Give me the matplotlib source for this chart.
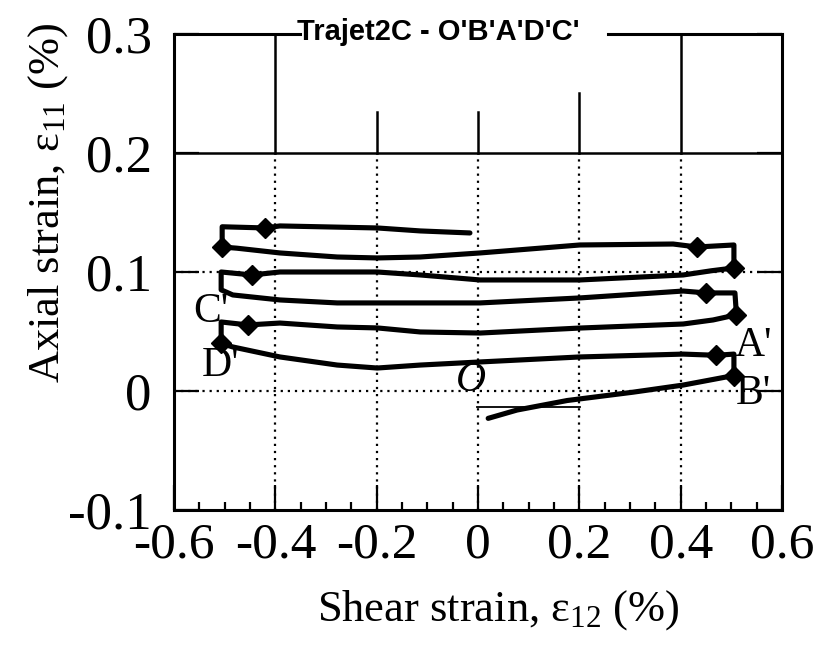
import matplotlib
matplotlib.use("Agg")
import matplotlib.pyplot as plt
from matplotlib.ticker import MultipleLocator

plt.rcParams['font.family'] = ['Liberation Serif', 'DejaVu Serif']
plt.rcParams['mathtext.fontset'] = 'custom'
plt.rcParams['mathtext.rm'] = 'Liberation Serif'
plt.rcParams['mathtext.it'] = 'Liberation Serif:italic'

# ---- data ----
title = "Trajet2C - O'B'A'D'C'"
x_ticks = [-0.6, -0.4, -0.2, 0, 0.2, 0.4, 0.6]
x_tick_labels = ["-0.6", "-0.4", "-0.2", "0", "0.2", "0.4", "0.6"]
y_ticks = [-0.1, 0, 0.1, 0.2, 0.3]
y_tick_labels = ["-0.1", "0", "0.1", "0.2", "0.3"]

# loading path O' -> B' -> A' -> D' -> C' -> ...
path_x = [0.020, 0.077, 0.176, 0.306, 0.405, 0.505,
          0.505, 0.470, 0.405, 0.201, 0.004, -0.114, -0.199, -0.278, -0.391, -0.484, -0.507,
          -0.507, -0.454, -0.391, -0.278, -0.199, -0.114, 0.004, 0.201, 0.405, 0.464, 0.510,
          0.507, 0.450, 0.405, 0.201, 0.004, -0.199, -0.278, -0.391, -0.484, -0.507,
          -0.507, -0.446, -0.391, -0.199, -0.114, 0.004, 0.201, 0.405, 0.460, 0.505,
          0.505, 0.432, 0.385, 0.201, 0.004, -0.114, -0.199, -0.278, -0.391, -0.476, -0.505,
          -0.505, -0.420, -0.391, -0.199, -0.114, -0.016]
path_y = [-0.023, -0.016, -0.008, -0.001, 0.005, 0.013,
          0.031, 0.030, 0.031, 0.0286, 0.0244, 0.0218, 0.0193, 0.0218, 0.0286, 0.037, 0.040,
          0.058, 0.0555, 0.0571, 0.0538, 0.053, 0.0496, 0.0487, 0.0529, 0.0563, 0.0597, 0.064,
          0.0824, 0.0824, 0.084, 0.0782, 0.074, 0.074, 0.074, 0.0765, 0.0807, 0.085,
          0.100, 0.0975, 0.100, 0.100, 0.0975, 0.0933, 0.0933, 0.0975, 0.101, 0.1034,
          0.1227, 0.121, 0.1235, 0.1227, 0.116, 0.1126, 0.1118, 0.1126, 0.116, 0.120, 0.121,
          0.138, 0.137, 0.1387, 0.137, 0.1345, 0.1328]

marker_x = [0.505, 0.470, -0.507, -0.454, 0.510, 0.450, -0.446, 0.505, 0.432, -0.505, -0.420]
marker_y = [0.013, 0.030, 0.040, 0.0555, 0.064, 0.0824, 0.0975, 0.1034, 0.121, 0.121, 0.137]

thin_x = [-0.002, 0.201]
thin_y = [-0.0134, -0.0134]

point_labels = ["O", "A'", "B'", "C'", "D'"]
point_lx = [-0.014, 0.543, 0.543, -0.527, -0.509]
point_ly = [0.0085, 0.038, -0.002, 0.067, 0.021]

# ---- figure ----
fig = plt.figure(figsize=(8.24, 6.51), dpi=100)
ax = fig.add_axes([0.2112, 0.2166, 0.7379, 0.7312])
ax.set_xlim(-0.6, 0.6)
ax.set_ylim(-0.1, 0.3)

for s in ax.spines.values():
    s.set_linewidth(2.2)
ax.spines['top'].set_visible(False)

# grid: dotted below 0.2, solid above
dot = dict(color='black', lw=1.6, linestyle=(0, (1, 2.2)), zorder=1)
for xv in x_ticks[1:-1]:
    ax.plot([xv, xv], [-0.1, 0.2], **dot)
for yv in [0.0, 0.1]:
    ax.plot([-0.6, 0.6], [yv, yv], **dot)
ax.plot([-0.6, 0.6], [0.2, 0.2], color='black', lw=1.8, zorder=1)
solid_top = {-0.4: 0.3, -0.2: 0.2345, 0.0: 0.2345, 0.2: 0.25, 0.4: 0.3}
for xv, ytop in solid_top.items():
    ax.plot([xv, xv], [0.2, ytop], color='black', lw=1.8, zorder=1)

# top spine with gap for title
ax.plot([0, 0.207], [1, 1], color='black', lw=2.2, transform=ax.transAxes, clip_on=False)
ax.plot([0.714, 1], [1, 1], color='black', lw=2.2, transform=ax.transAxes, clip_on=False)

# ticks
ax.set_xticks(x_ticks)
ax.set_xticklabels(x_tick_labels)
ax.set_yticks(y_ticks)
ax.set_yticklabels(y_tick_labels)
ax.xaxis.set_minor_locator(MultipleLocator(0.05))
ax.tick_params(axis='x', which='major', direction='in', length=18, width=1.6,
               labelsize=37, pad=9, top=False)
ax.tick_params(axis='x', which='minor', direction='in', length=6, width=1.6, top=False)
ax.tick_params(axis='y', which='major', direction='in', length=18, width=1.6,
               labelsize=38, pad=16, right=True)

# data
ax.plot(path_x, path_y, color='black', lw=3.7, solid_joinstyle='round',
        solid_capstyle='round', zorder=3)
ax.plot(thin_x, thin_y, color='black', lw=1.3, zorder=3)
ax.plot(marker_x, marker_y, linestyle='none', marker='D', markersize=10,
        color='black', zorder=4)

for lab, lx, ly in zip(point_labels, point_lx, point_ly):
    ax.text(lx, ly, lab, fontsize=30, ha='center', va='center',
            style='italic' if lab == 'O' else 'normal', zorder=5)

# title
fig.text(438 / 824, 1 - 32 / 651, title, family='Liberation Sans', weight='bold',
         fontsize=21, ha='center', va='center')

# axis labels
fig.text(498 / 824, 1 - 610 / 651, "Shear strain, ε$_{\\mathrm{12}}$ (%)",
         fontsize=32, ha='center', va='center')
fig.text(48 / 824, 1 - 203 / 651, "Axial strain, ε$_{\\mathrm{11}}$ (%)",
         fontsize=32, ha='center', va='center', rotation=90)

fig.savefig("out.png", dpi=100)
